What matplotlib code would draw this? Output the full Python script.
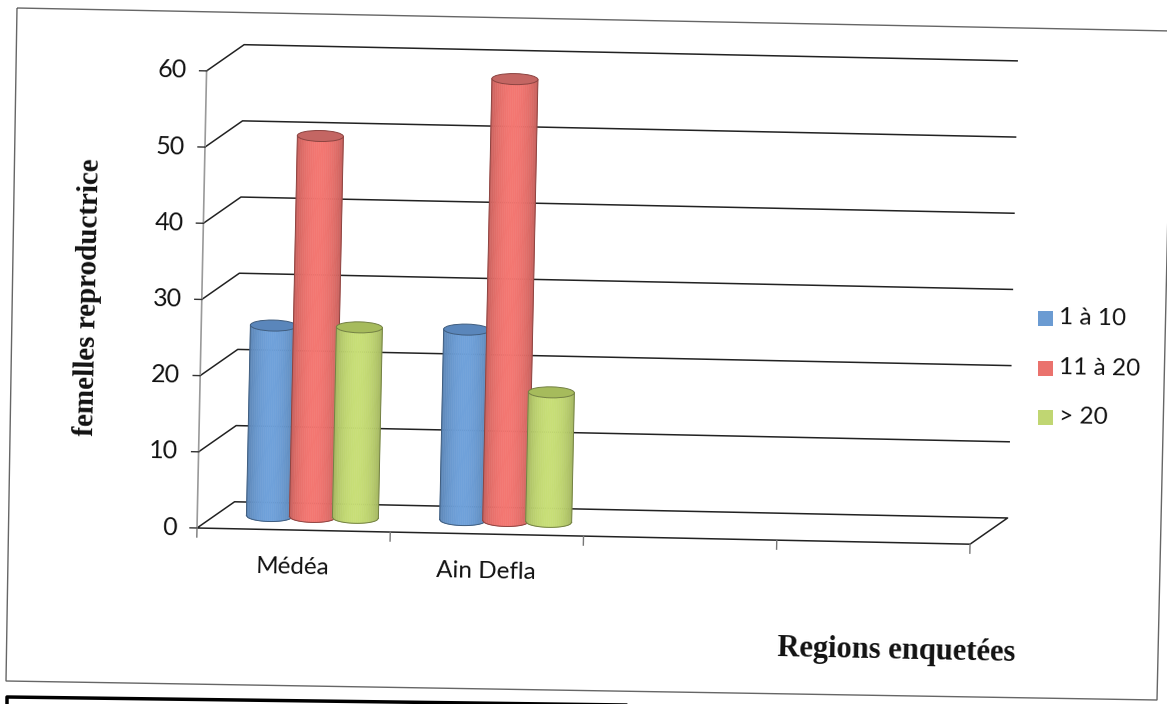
#Graphique 3D en cylindres (style Excel) : femelles reproductrices par région
import numpy as np
import matplotlib
matplotlib.use('Agg')
import matplotlib.pyplot as plt
import matplotlib.transforms as mtransforms
from matplotlib.patches import Polygon, Ellipse
from matplotlib.colors import to_rgb

# données
regions = ['Médéa', 'Ain Defla']
n_slots = 4                               # 4 catégories sur l'axe, 2 remplies
series = ['1 à 10', '11 à 20', '> 20']
v_1_10 = [25, 25]
v_11_20 = [50, 58]
v_sup20 = [25, 17]
values = [v_1_10, v_11_20, v_sup20]
yticks = [0, 10, 20, 30, 40, 50, 60]

colors = ['#6b9bd2', '#ea726d', '#c0d672']
top_colors = ['#5a86bb', '#c46663', '#a6bb5c']

# mise en page (pixels)
W, H = 1167, 704
X0, Y0 = 197, H - 528                     # origine de l'axe avant
SX, SY = 193.3, 7.62                      # pixels par unité
ANG = -1.2                                # le scan est légèrement tourné
DX, DY = 37 / SX, 27 / SY                 # profondeur 3D
BAR_W = 46 / SX
BAR_STEP = 43 / SX
ELL_H = 11 / SY
TXT = '#111111'

fig = plt.figure(figsize=(W / 100, H / 100), dpi=100)
ax = fig.add_axes([0, 0, 1, 1])
ax.axis('off')
ax.set_xlim(-X0 / SX, (W - X0) / SX)
ax.set_ylim(-Y0 / SY, (H - Y0) / SY)
ax.set_autoscale_on(False)

rot = ax.transData + mtransforms.Affine2D().rotate_deg_around(X0, Y0, ANG)
pix = mtransforms.IdentityTransform()


def P(x, ydown):
    return (x, H - ydown)


# cadre du scan
frame = [P(17, 8), P(1172, 31), P(1157, 700), P(6, 681)]
ax.add_patch(Polygon(frame, closed=True, fill=False, ec='#666666', lw=1.0,
                     transform=pix, zorder=0))
bx, by = zip(P(7, 710), P(7, 697), P(1167, 712))
ax.plot(bx, by, color='black', lw=2.5, transform=pix, zorder=0)

# quadrillage : mur gauche + mur du fond
for v in yticks[1:]:
    ax.plot([0, DX, n_slots + DX], [v, v + DY, v + DY], color='#222222',
            lw=1.1, transform=rot, zorder=1)
# sol
ax.plot([0, DX, n_slots + DX, n_slots, 0], [0, DY, DY, 0, 0],
        color='#222222', lw=1.1, transform=rot, zorder=1)
# axe vertical avant
ax.plot([0, 0], [0, yticks[-1]], color='#9a9a9a', lw=1.2, transform=rot, zorder=1)
for v in yticks:
    ax.plot([-7 / SX, 0], [v, v], color='#333333', lw=1, transform=rot, zorder=1)
    ax.text(-20 / SX, v, str(v), transform=rot, rotation=ANG, rotation_mode='anchor',
            ha='right', va='center', fontsize=18, family='Lato', color=TXT)
for i in range(n_slots + 1):
    ax.plot([i, i], [0, -9 / SY], color='#777777', lw=1, transform=rot, zorder=1)
for i, name in enumerate(regions):
    ax.text(i + 0.5, -37 / SY, name, transform=rot, rotation=ANG, rotation_mode='anchor',
            ha='center', va='center', fontsize=17.5, family='Lato', color=TXT)


def cylinder(xc, base, top, color, topcolor, z):
    rgb = np.array(to_rgb(color))
    n = 24
    edges = np.linspace(xc - BAR_W / 2, xc + BAR_W / 2, n + 1)
    for k in range(n):
        a, b = edges[k], edges[k + 1]
        t = (k + 0.5) / n
        shade = 0.84 + 0.2 * np.sin(np.pi * t) ** 0.7
        c = np.clip(rgb * shade, 0, 1)
        xs = np.linspace(b, a, 5)
        ys = base - (ELL_H / 2) * np.sqrt(np.clip(1 - ((xs - xc) / (BAR_W / 2)) ** 2, 0, 1))
        verts = [(a, top), (b, top)] + list(zip(xs, ys))
        ax.add_patch(Polygon(verts, closed=True, fc=c, ec=c, lw=0.4,
                             transform=rot, zorder=z))
    edge = np.clip(rgb * 0.6, 0, 1)
    ax.plot([xc - BAR_W / 2, xc - BAR_W / 2], [base, top], color=edge, lw=0.7,
            transform=rot, zorder=z + 0.05)
    ax.plot([xc + BAR_W / 2, xc + BAR_W / 2], [base, top], color=edge, lw=0.7,
            transform=rot, zorder=z + 0.05)
    xs = np.linspace(xc - BAR_W / 2, xc + BAR_W / 2, 30)
    ys = base - (ELL_H / 2) * np.sqrt(np.clip(1 - ((xs - xc) / (BAR_W / 2)) ** 2, 0, 1))
    ax.plot(xs, ys, color=edge, lw=0.7, transform=rot, zorder=z + 0.05)
    ax.add_patch(Ellipse((xc, top), BAR_W, ELL_H, fc=topcolor, ec=edge, lw=0.7,
                         transform=rot, zorder=z + 0.1))


base = DY / 2
for i in range(len(regions)):
    for j in range(len(series)):
        xc = i + 0.5 + DX / 2 + (j - 1) * BAR_STEP
        cylinder(xc, base, base + values[j][i], colors[j], top_colors[j], 2 + j)

# légende
leg_y = [318, 368, 417]
for j, s in enumerate(series):
    x, y = P(1038, leg_y[j] + 7.5)
    ax.add_patch(Polygon([(x, y), (x + 15, y), (x + 15, y + 15), (x, y + 15)],
                         closed=True, fc=colors[j], ec='none', transform=pix, zorder=5))
    tx, ty = P(1059, leg_y[j])
    ax.text(tx, ty, s, transform=pix, rotation=ANG, rotation_mode='anchor',
            ha='left', va='center', fontsize=17.5, family='Lato', color=TXT)

# titres des axes
tx, ty = P(88, 297)
ax.text(tx, ty, 'femelles reproductrice', transform=pix, rotation=90 + ANG,
        rotation_mode='anchor', ha='center', va='center', fontsize=21,
        family='Liberation Serif', fontweight='bold', color=TXT)
tx, ty = P(896, 651)
ax.text(tx, ty, 'Regions enquetées', transform=pix, rotation=ANG,
        rotation_mode='anchor', ha='center', va='center', fontsize=22,
        family='Liberation Serif', fontweight='bold', color=TXT)

fig.savefig('out.png', dpi=100)
